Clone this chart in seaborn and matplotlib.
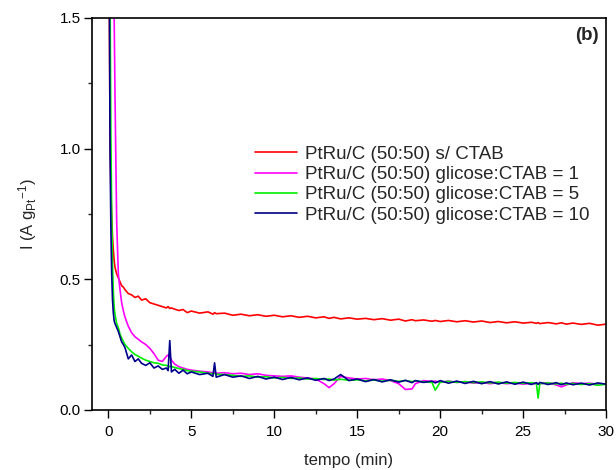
import pandas as pd
import seaborn as sns
import matplotlib.pyplot as plt

tempo = [0.0, 0.05, 0.1, 0.15, 0.2, 0.25, 0.3, 0.35, 0.4, 0.5,
         0.6, 0.7, 0.8, 0.9, 1.0, 1.2, 1.4, 1.6, 1.8, 2.0,
         2.25, 2.5, 2.75, 3.0, 3.25, 3.5, 3.6, 3.7, 3.8, 4.0,
         4.25, 4.5, 4.75, 5.0, 5.5, 6.0, 6.3, 6.4, 6.5, 7.0,
         7.5, 8.0, 8.5, 9.0, 9.5, 10.0, 10.5, 11.0, 11.5, 12.0,
         12.5, 13.0, 13.3, 13.6, 14.0, 14.5, 15.0, 15.5, 16.0, 16.5,
         17.0, 17.5, 17.9, 18.3, 18.5, 19.0, 19.5, 19.7, 20.0, 20.5,
         21.0, 21.5, 22.0, 22.5, 23.0, 23.5, 24.0, 24.5, 25.0, 25.5,
         25.8, 25.9, 26.0, 26.5, 27.0, 27.3, 27.6, 28.0, 28.5, 29.0,
         29.5, 30.0]

i_sem_ctab = [2.5, 1.6, 1.05, 0.85, 0.74, 0.66, 0.61, 0.57, 0.545, 0.52,
              0.505, 0.49, 0.475, 0.47, 0.46, 0.445, 0.44, 0.43, 0.435, 0.42,
              0.425, 0.41, 0.405, 0.40, 0.395, 0.39, 0.395, 0.388, 0.39, 0.385,
              0.38, 0.384, 0.372, 0.378, 0.37, 0.375, 0.366, 0.372, 0.368, 0.37,
              0.362, 0.366, 0.36, 0.364, 0.358, 0.362, 0.356, 0.36, 0.354, 0.358,
              0.352, 0.356, 0.35, 0.354, 0.348, 0.352, 0.347, 0.35, 0.345, 0.349,
              0.343, 0.347, 0.34, 0.345, 0.341, 0.344, 0.339, 0.342, 0.338, 0.342,
              0.337, 0.341, 0.336, 0.34, 0.334, 0.338, 0.333, 0.337, 0.332, 0.335,
              0.331, 0.334, 0.33, 0.334, 0.329, 0.333, 0.328, 0.332, 0.327, 0.331,
              0.324, 0.328]

i_gc1 = [4.0, 3.5, 3.0, 2.6, 2.2, 1.9, 1.65, 1.5, 1.2, 0.72,
         0.52, 0.46, 0.41, 0.38, 0.355, 0.32, 0.295, 0.28, 0.27, 0.26,
         0.25, 0.235, 0.215, 0.19, 0.185, 0.205, 0.21, 0.205, 0.19, 0.175,
         0.165, 0.16, 0.155, 0.152, 0.148, 0.145, 0.142, 0.145, 0.14, 0.142,
         0.138, 0.14, 0.135, 0.138, 0.132, 0.13, 0.128, 0.13, 0.125, 0.122,
         0.118, 0.1, 0.085, 0.1, 0.128, 0.122, 0.118, 0.12, 0.115, 0.118,
         0.112, 0.1, 0.078, 0.08, 0.1, 0.112, 0.108, 0.11, 0.105, 0.11,
         0.105, 0.108, 0.102, 0.105, 0.1, 0.104, 0.1, 0.103, 0.098, 0.102,
         0.1, 0.098, 0.1, 0.104, 0.095, 0.088, 0.095, 0.104, 0.1, 0.102,
         0.098, 0.1]

i_gc5 = [3.0, 2.0, 1.6, 1.05, 0.75, 0.55, 0.45, 0.39, 0.365, 0.33,
         0.315, 0.29, 0.275, 0.262, 0.25, 0.235, 0.222, 0.212, 0.205, 0.198,
         0.19, 0.185, 0.18, 0.178, 0.172, 0.17, 0.168, 0.165, 0.166, 0.162,
         0.158, 0.155, 0.15, 0.148, 0.145, 0.14, 0.138, 0.14, 0.136, 0.135,
         0.132, 0.128, 0.13, 0.125, 0.127, 0.122, 0.124, 0.12, 0.122, 0.118,
         0.12, 0.116, 0.118, 0.114, 0.117, 0.113, 0.115, 0.111, 0.114, 0.11,
         0.113, 0.109, 0.112, 0.108, 0.111, 0.107, 0.105, 0.075, 0.106, 0.109,
         0.105, 0.108, 0.104, 0.107, 0.103, 0.106, 0.102, 0.105, 0.101, 0.104,
         0.1, 0.045, 0.1, 0.103, 0.099, 0.102, 0.098, 0.101, 0.097, 0.1,
         0.094, 0.098]

i_gc10 = [3.0, 1.8, 1.0, 0.7, 0.52, 0.42, 0.37, 0.34, 0.33, 0.315,
          0.3, 0.28, 0.26, 0.25, 0.238, 0.195, 0.21, 0.185, 0.195, 0.178,
          0.17, 0.18, 0.16, 0.168, 0.155, 0.16, 0.15, 0.265, 0.145, 0.155,
          0.14, 0.152, 0.138, 0.145, 0.135, 0.14, 0.128, 0.18, 0.125, 0.135,
          0.125, 0.13, 0.12, 0.128, 0.118, 0.125, 0.116, 0.124, 0.115, 0.122,
          0.113, 0.12, 0.112, 0.118, 0.135, 0.112, 0.118, 0.108, 0.116, 0.107,
          0.115, 0.106, 0.113, 0.104, 0.112, 0.105, 0.11, 0.103, 0.112, 0.102,
          0.11, 0.101, 0.109, 0.1, 0.108, 0.099, 0.107, 0.098, 0.106, 0.097,
          0.104, 0.098, 0.105, 0.097, 0.104, 0.096, 0.103, 0.096, 0.102, 0.095,
          0.103, 0.098]

amostras = ["PtRu/C (50:50) s/ CTAB",
            "PtRu/C (50:50) glicose:CTAB = 1",
            "PtRu/C (50:50) glicose:CTAB = 5",
            "PtRu/C (50:50) glicose:CTAB = 10"]
cores = ["#ff0000", "#ff00ff", "#00ee00", "#00008b"]

frames = []
for nome, valores in zip(amostras, [i_sem_ctab, i_gc1, i_gc5, i_gc10]):
    frames.append(pd.DataFrame({"tempo": tempo, "I": valores, "amostra": nome}))
df = pd.concat(frames, ignore_index=True)

sns.set_style("ticks")
plt.rcParams["font.family"] = ["Liberation Sans", "DejaVu Sans"]
plt.rcParams["mathtext.fontset"] = "custom"
plt.rcParams["mathtext.rm"] = "Liberation Sans"
plt.rcParams["mathtext.it"] = "Liberation Sans"

fig = plt.figure(figsize=(6.16, 4.70), dpi=100)
ax = fig.add_axes([0.149, 0.128, 0.835, 0.834])

sns.lineplot(data=df, x="tempo", y="I", hue="amostra", hue_order=amostras,
             palette=dict(zip(amostras, cores)), estimator=None, sort=False,
             lw=1.2, ax=ax)

ax.set_xlim(-1, 30)
ax.set_ylim(0, 1.5)
ax.set_xticks([0, 5, 10, 15, 20, 25, 30])
ax.set_xticks([2.5, 7.5, 12.5, 17.5, 22.5, 27.5], minor=True)
ax.set_yticks([0.0, 0.5, 1.0, 1.5])
ax.set_yticks([0.25, 0.75, 1.25], minor=True)
ax.set_yticklabels(["0.0", "0.5", "1.0", "1.5"])
ax.tick_params(which="major", direction="out", length=5.5, width=1,
               labelsize=11, colors="black")
ax.tick_params(axis="x", which="major", pad=5.5)
ax.tick_params(axis="y", which="major", pad=2.5)
ax.tick_params(which="minor", direction="out", length=3, width=1)
for s in ax.spines.values():
    s.set_linewidth(1.2)
    s.set_color("black")

ax.set_xlabel("tempo (min)", fontsize=12, labelpad=10)
ax.set_ylabel(r"I (A g$_\mathregular{Pt}$$^\mathregular{-1}$)", fontsize=12, labelpad=15)
ax.text(0.985, 0.955, "(b)", transform=ax.transAxes, ha="right", va="center",
        fontsize=13.5, fontweight="bold")

sns.move_legend(ax, loc="upper left", bbox_to_anchor=(0.284, 0.717), frameon=False,
                title=None, fontsize=13.5, handlelength=2.25, handletextpad=0.43,
                labelspacing=0.17)

fig.savefig("out.png", dpi=100)
